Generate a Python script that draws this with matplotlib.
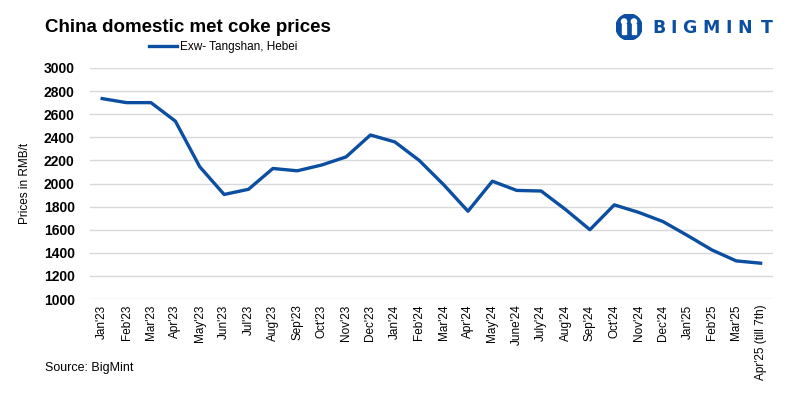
import matplotlib
matplotlib.use("Agg")
import matplotlib.pyplot as plt
from matplotlib.patches import Circle, Rectangle

months = ["Jan'23", "Feb'23", "Mar'23", "Apr'23", "May'23", "Jun'23", "Jul'23", "Aug'23",
          "Sep'23", "Oct'23", "Nov'23", "Dec'23", "Jan'24", "Feb'24", "Mar'24", "Apr'24",
          "May'24", "June'24", "July'24", "Aug'24", "Sep'24", "Oct'24", "Nov'24", "Dec'24",
          "Jan'25", "Feb'25", "Mar'25", "Apr'25 (till 7th)"]
prices = [2735, 2700, 2700, 2540, 2145, 1905, 1950, 2130, 2110, 2160, 2230, 2420, 2360, 2200,
          1990, 1760, 2020, 1940, 1935, 1775, 1600, 1815, 1750, 1670, 1550, 1425, 1330, 1310]
yticks = list(range(1000, 3001, 200))

blue = "#0B4EA2"
font = "Liberation Sans"
fig = plt.figure(figsize=(8, 3.99), dpi=100)
ax = fig.add_axes([0.1125, 0.2506, 0.8535, 0.579])
x = list(range(len(months)))
ax.plot(x, prices, color=blue, lw=2.4, solid_joinstyle="round", label="Exw- Tangshan, Hebei")
ax.set_xlim(-0.5, len(months) - 0.5)
ax.set_ylim(1000, 3000)
ax.set_yticks(yticks)
ax.set_yticklabels([str(v) for v in yticks], fontfamily=font, fontweight="bold", fontsize=10)
ax.set_xticks(x)
ax.set_xticklabels(months, rotation=90, fontfamily=font, fontsize=8.5)
ax.grid(axis="y", color="#d9d9d9", lw=1)
ax.set_axisbelow(True)
for s in ax.spines.values():
    s.set_visible(False)
ax.tick_params(length=0, pad=4)
ax.tick_params(axis="y", pad=11)
ax.set_ylabel("Prices in RMB/t", fontfamily=font, fontsize=8.5)
ax.yaxis.set_label_coords(-0.087, 0.5)

fig.text(0.056, 0.93, "China domestic met coke prices", fontfamily=font,
         fontweight="bold", fontsize=13.5, va="center")
leg = fig.legend(handles=ax.get_lines(), loc="center left", bbox_to_anchor=(0.186, 0.882),
                 frameon=False, prop={"family": font, "size": 8.5}, handlelength=2.4,
                 handletextpad=0.25, borderpad=0, borderaxespad=0)
fig.text(0.056, 0.078, "Source: BigMint", fontfamily=font, fontsize=9, va="center")

# logo icon
lax = fig.add_axes([0.77, 0.8997, 0.0325, 0.0652])
lax.set_xlim(-1, 1)
lax.set_ylim(-1, 1)
lax.set_aspect("equal")
lax.axis("off")
lax.add_patch(Circle((0, 0), 1, color=blue))
for cx in (-0.38, 0.38):
    lax.add_patch(Circle((cx, 0.42), 0.2, color="white"))
    lax.add_patch(Rectangle((cx - 0.17, -0.55), 0.34, 0.75, color="white"))
lax.add_patch(Rectangle((-0.06, -0.2), 0.12, 0.5, color=blue))
letters = "BIGMINT"
centers = [659, 674, 689.5, 711, 729, 744.5, 766.5]
for ch, cx in zip(letters, centers):
    fig.text(cx / 800, 0.929, ch, fontfamily="DejaVu Sans", fontweight="bold", fontsize=12.5,
             color=blue, va="center", ha="center")
fig.savefig("out.png", dpi=100)
